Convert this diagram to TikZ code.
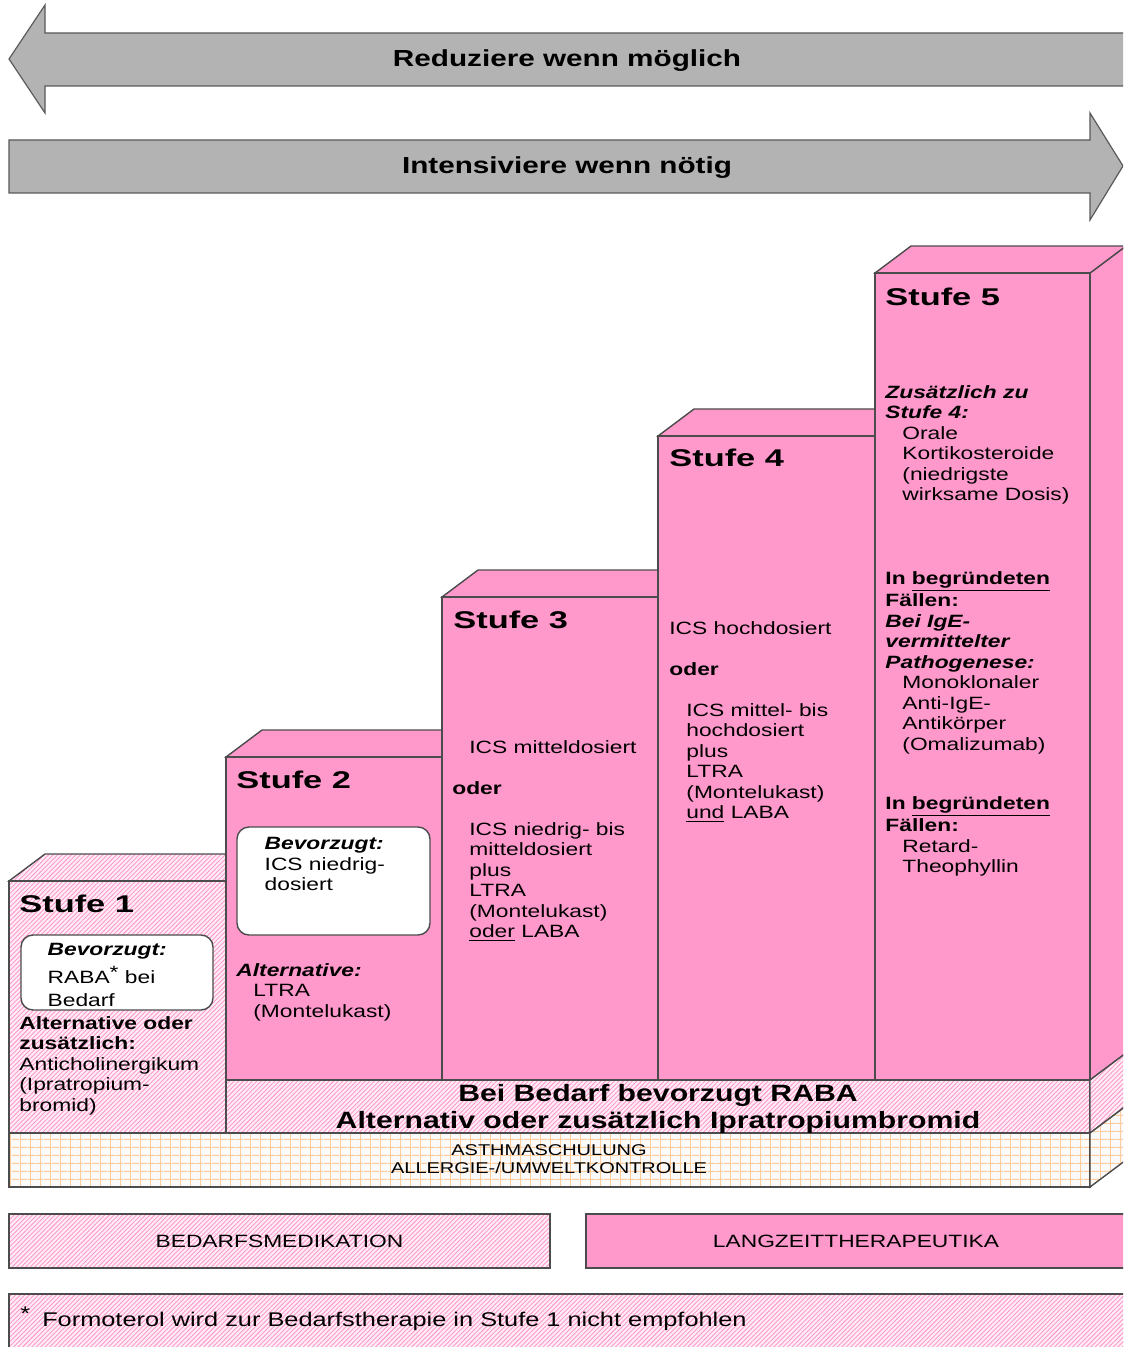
\documentclass[tikz,border=0pt]{standalone}
\usepackage{fontspec}
\setmainfont{Liberation Sans}[FakeStretch=1.28]
\newfontfamily\stufefont{Liberation Sans}[FakeStretch=1.42]
\usetikzlibrary{patterns.meta,positioning}
\definecolor{stufepink}{HTML}{FF99CC}
\definecolor{arrowgray}{HTML}{B3B3B3}
\definecolor{gridorange}{HTML}{FFCC99}
\tikzset{
    outline/.style = {
        draw = black!70,
        line width = 0.7pt,
        },
    long term/.style = {
        outline,
        fill = stufepink,
        },
    on demand/.style = {
        outline,
        preaction = {fill = stufepink!18},
        preaction = {pattern = {Lines[angle=45,distance=1.6pt,line width=0.45pt]}, pattern color = stufepink},
        },
    control/.style = {
        outline,
        preaction = {fill = black!2},
        preaction = {pattern = {Lines[angle=0,distance=4pt,line width=0.5pt]}, pattern color = gridorange},
        preaction = {pattern = {Lines[angle=90,distance=5pt,line width=0.5pt]}, pattern color = gridorange},
        },
    direction arrow/.style = {
        draw = black!65,
        line width = 0.6pt,
        fill = arrowgray,
        },
    pref box/.style = {
        outline,
        fill = white,
        rounded corners = 6pt,
        inner sep = 0pt,
        },
    stufe title/.style = {
        font = \stufefont\bfseries\fontsize{12.1}{14}\selectfont,
        inner sep = 0pt,
        anchor = north west,
        },
    body/.style = {
        font = \fontsize{8.9}{10.25}\selectfont,
        inner sep = 0pt,
        anchor = north west,
        align = left,
        },
    banner/.style = {
        font = \bfseries\fontsize{11.6}{13.5}\selectfont,
        inner sep = 0pt,
        align = center,
        },
    caps/.style = {
        font = \fontsize{7.8}{9}\selectfont,
        inner sep = 0pt,
        align = center,
        },
    legend/.style = {
        font = \fontsize{8.9}{10.25}\selectfont,
        minimum height = 27pt,
        inner sep = 0pt,
        }
}

\begin{document}
\begin{tikzpicture}[x=0.5pt,y=-0.5pt]
    \useasboundingbox (0,0) rectangle (1123,1347);
    \clip (0,0) rectangle (1123,1347);

    % direction arrows
    \draw[direction arrow] (1130,33) -- (45,33) -- (45,5) -- (9,59) -- (45,113) -- (45,86) -- (1130,86);
    \draw[direction arrow] (9,140) -- (1090,140) -- (1090,113) -- (1123,166) -- (1090,220) -- (1090,193) -- (9,193) -- cycle;
    \node[banner, anchor=base] (reduce) at (567,67) {Reduziere wenn möglich};
    \node[banner, anchor=base] (raise) at (567,174) {Intensiviere wenn nötig};

    % side of stufe 5
    \draw[long term] (1090,273) -- (1126,246) -- (1126,1053) -- (1090,1080) -- cycle;

    % top faces
    \draw[on demand] (9,881) -- (45,854) -- (226,854) -- (226,881) -- cycle;
    \foreach \xa/\xb/\xr/\yt in {226/442/442/757, 442/658/658/597, 658/875/875/436, 875/1090/1126/273}
        \draw[long term] (\xa,\yt) -- (\xa+36,\yt-27) -- (\xr,\yt-27) -- (\xb,\yt) -- cycle;

    % front faces
    \draw[on demand] (9,881) rectangle (226,1133);
    \foreach \xa/\xb/\yt in {226/442/757, 442/658/597, 658/875/436, 875/1090/273}
        \draw[long term] (\xa,\yt) rectangle (\xb,1080);

    % bands at the bottom
    \draw[on demand] (226,1080) rectangle (1090,1133);
    \draw[on demand] (1090,1080) -- (1126,1053) -- (1126,1106) -- (1090,1133) -- cycle;
    \draw[control] (9,1133) rectangle (1090,1187);
    \draw[control] (1090,1133) -- (1126,1106) -- (1126,1160) -- (1090,1187) -- cycle;

    % stufe 1
    \node[stufe title] (t1) at (19,895) {Stufe 1};
    \node[pref box, minimum width=96pt, minimum height=37.5pt] (pref1) at (117,972.5) {};
    \node[body, below right=4.5pt and 13.5pt of pref1.north west] (p1) {\textbf{\textit{Bevorzugt:}}\\[2.5pt]
        RABA\raisebox{2.5pt}{*} bei\\[1pt]
        Bedarf};
    \node[body] (a1) at (19,1016) {\textbf{Alternative oder}\\
        \textbf{zusätzlich:}\\
        Anticholinergikum\\
        (Ipratropium-\\
        bromid)};

    % stufe 2
    \node[stufe title] (t2) at (236,771) {Stufe 2};
    \node[pref box, minimum width=96.5pt, minimum height=54pt] (pref2) at (333.5,881) {};
    \node[body, below right=5.5pt and 14pt of pref2.north west] (p2) {\textbf{\textit{Bevorzugt:}}\\
        ICS niedrig-\\
        dosiert};
    \node[body] (a2) at (236,963) {\textbf{\textit{Alternative:}}\\
        \hspace*{8.5pt}LTRA\\
        \hspace*{8.5pt}(Montelukast)};

    % stufe 3
    \node[stufe title] (t3) at (453,611) {Stufe 3};
    \node[body] (s3) at (452,740) {\hspace*{8.5pt}ICS mitteldosiert\\[10.25pt]
        \textbf{oder}\\[10.25pt]
        \hspace*{8.5pt}ICS niedrig- bis\\
        \hspace*{8.5pt}mitteldosiert\\
        \hspace*{8.5pt}plus\\
        \hspace*{8.5pt}LTRA\\
        \hspace*{8.5pt}(Montelukast)\\
        \hspace*{8.5pt}\underline{oder} LABA};

    % stufe 4
    \node[stufe title] (t4) at (669,449) {Stufe 4};
    \node[body] (s4) at (669,621) {ICS hochdosiert\\[10.25pt]
        \textbf{oder}\\[10.25pt]
        \hspace*{8.5pt}ICS mittel- bis\\
        \hspace*{8.5pt}hochdosiert\\
        \hspace*{8.5pt}plus\\
        \hspace*{8.5pt}LTRA\\
        \hspace*{8.5pt}(Montelukast)\\
        \hspace*{8.5pt}\underline{und} LABA};

    % stufe 5
    \node[stufe title] (t5) at (885,288) {Stufe 5};
    \node[body] (s5a) at (885,385) {\textbf{\textit{Zusätzlich zu}}\\
        \textbf{\textit{Stufe 4:}}\\
        \hspace*{8.5pt}Orale\\
        \hspace*{8.5pt}Kortikosteroide\\
        \hspace*{8.5pt}(niedrigste\\
        \hspace*{8.5pt}wirksame Dosis)};
    \node[body] (s5b) at (885,571) {\textbf{In \underline{begründeten}}\\
        \textbf{Fällen:}\\
        \textbf{\textit{Bei IgE-}}\\
        \textbf{\textit{vermittelter}}\\
        \textbf{\textit{Pathogenese:}}\\
        \hspace*{8.5pt}Monoklonaler\\
        \hspace*{8.5pt}Anti-IgE-\\
        \hspace*{8.5pt}Antikörper\\
        \hspace*{8.5pt}(Omalizumab)};
    \node[body] (s5c) at (885,796) {\textbf{In \underline{begründeten}}\\
        \textbf{Fällen:}\\
        \hspace*{8.5pt}Retard-\\
        \hspace*{8.5pt}Theophyllin};

    % band texts
    \node[banner, anchor=north, font=\bfseries\fontsize{11.8}{13.5}\selectfont] (bedarf) at (658,1084) {Bei Bedarf bevorzugt RABA\\
        Alternativ oder zusätzlich Ipratropiumbromid};
    \node[caps, anchor=north] (schulung) at (549,1144) {ASTHMASCHULUNG\\
        ALLERGIE-/UMWELTKONTROLLE};

    % legend
    \node[legend, on demand, minimum width=270.5pt] (bm) at (279.5,1241) {BEDARFSMEDIKATION};
    \node[legend, long term, minimum width=270pt] (lt) at (856,1241) {LANGZEITTHERAPEUTIKA};

    % footnote
    \draw[on demand] (9,1294) rectangle (1130,1355);
    \node[font=\fontsize{9.9}{12}\selectfont, inner sep=0pt, anchor=base west] (note) at (20,1326)
        {\raisebox{3pt}{*}\hspace{6pt}Formoterol wird zur Bedarfstherapie in Stufe 1 nicht empfohlen};
\end{tikzpicture}
\end{document}
